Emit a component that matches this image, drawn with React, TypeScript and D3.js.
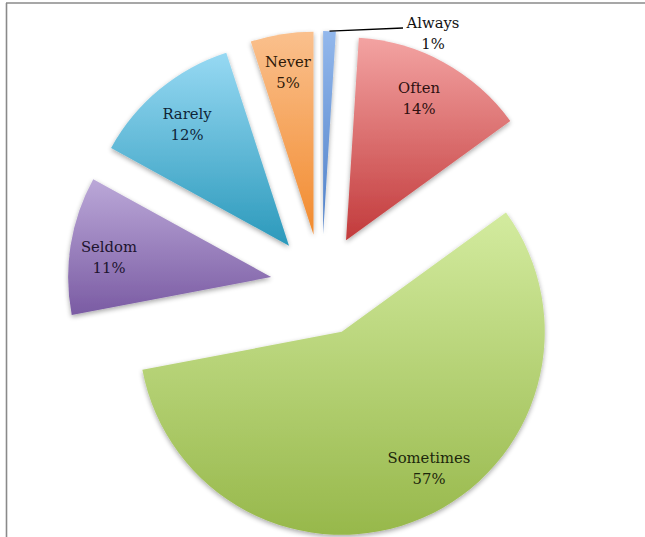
import React from "react";
import * as d3 from "d3";

const categories = ["Always", "Often", "Sometimes", "Seldom", "Rarely", "Never"];
const values = [1, 14, 57, 11, 12, 5];
const topColors = ["#93b8ec", "#f3a3a2", "#d3eb9f", "#bba8d8", "#97d9f3", "#fac08d"];
const bottomColors = ["#4f80c8", "#c23a3b", "#97b84b", "#7a5ba3", "#2b99bb", "#f28b2f"];
const textColors = ["#111111", "#2e1010", "#1c260b", "#1d142e", "#0f2538", "#2e1a08"];

const W = 645;
const H = 537;
const cx = 321.5;
const cy = 285;
const R = 203;
const EXPLODE = 51;

// label anchor points (center x, first baseline y)
const labelPos: [number, number][] = [
  [433, 28],
  [419, 93],
  [429, 463],
  [109, 252],
  [187, 119],
  [288, 67],
];

export default function App() {
  const pie = d3
    .pie<number>()
    .sort(null)
    .value((d) => d)
    .startAngle(0)
    .endAngle(2 * Math.PI);
  const arcs = pie(values);
  const arc = d3.arc<d3.PieArcDatum<number>>().innerRadius(0).outerRadius(R);

  const offsets = arcs.map((a) => {
    const mid = (a.startAngle + a.endAngle) / 2;
    return [Math.sin(mid) * EXPLODE, -Math.cos(mid) * EXPLODE];
  });

  // leader for Always
  const a0 = arcs[0];
  const midA = (a0.startAngle + a0.endAngle) / 2;
  const lx0 = cx + offsets[0][0] + Math.sin(midA) * R;
  const ly0 = cy + offsets[0][1] - Math.cos(midA) * R;

  return (
    <div style={{ position: "absolute", left: 0, top: 0 }}>
      <svg width={W} height={H} style={{ display: "block" }}>
        <defs>
          {categories.map((c, i) => (
            <linearGradient key={c} id={`g${i}`} x1="0" y1="0" x2="0" y2="1">
              <stop offset="0%" stopColor={topColors[i]} />
              <stop offset="100%" stopColor={bottomColors[i]} />
            </linearGradient>
          ))}
          <filter id="sh" x="-20%" y="-20%" width="140%" height="140%">
            <feGaussianBlur in="SourceAlpha" stdDeviation="2.5" />
            <feOffset dx="0" dy="2" result="b" />
            <feComponentTransfer>
              <feFuncA type="linear" slope="0.35" />
            </feComponentTransfer>
            <feMerge>
              <feMergeNode />
              <feMergeNode in="SourceGraphic" />
            </feMerge>
          </filter>
        </defs>
        <rect x={0} y={0} width={W} height={H} fill="#fff" />
        <line x1={6} y1={3} x2={W} y2={3} stroke="#8a8a8a" strokeWidth={1.6} />
        <line x1={6.5} y1={3} x2={6.5} y2={H} stroke="#8a8a8a" strokeWidth={1.6} />
        <g transform={`translate(${cx},${cy})`}>
          {arcs.map((a, i) => (
            <path
              key={categories[i]}
              d={arc(a) || ""}
              transform={`translate(${offsets[i][0]},${offsets[i][1]})`}
              fill={`url(#g${i})`}
              filter="url(#sh)"
            />
          ))}
        </g>
        <polyline
          points={`${lx0},${ly0} ${403},${28}`}
          fill="none"
          stroke="#000"
          strokeWidth={1.5}
        />
        {categories.map((c, i) => (
          <text
            key={c}
            x={labelPos[i][0]}
            y={labelPos[i][1]}
            textAnchor="middle"
            fontFamily="'DejaVu Serif', serif"
            fontSize={14.8}
            fill={textColors[i]}
          >
            <tspan x={labelPos[i][0]}>{c}</tspan>
            <tspan x={labelPos[i][0]} dy={21}>
              {values[i]}%
            </tspan>
          </text>
        ))}
      </svg>
    </div>
  );
}
